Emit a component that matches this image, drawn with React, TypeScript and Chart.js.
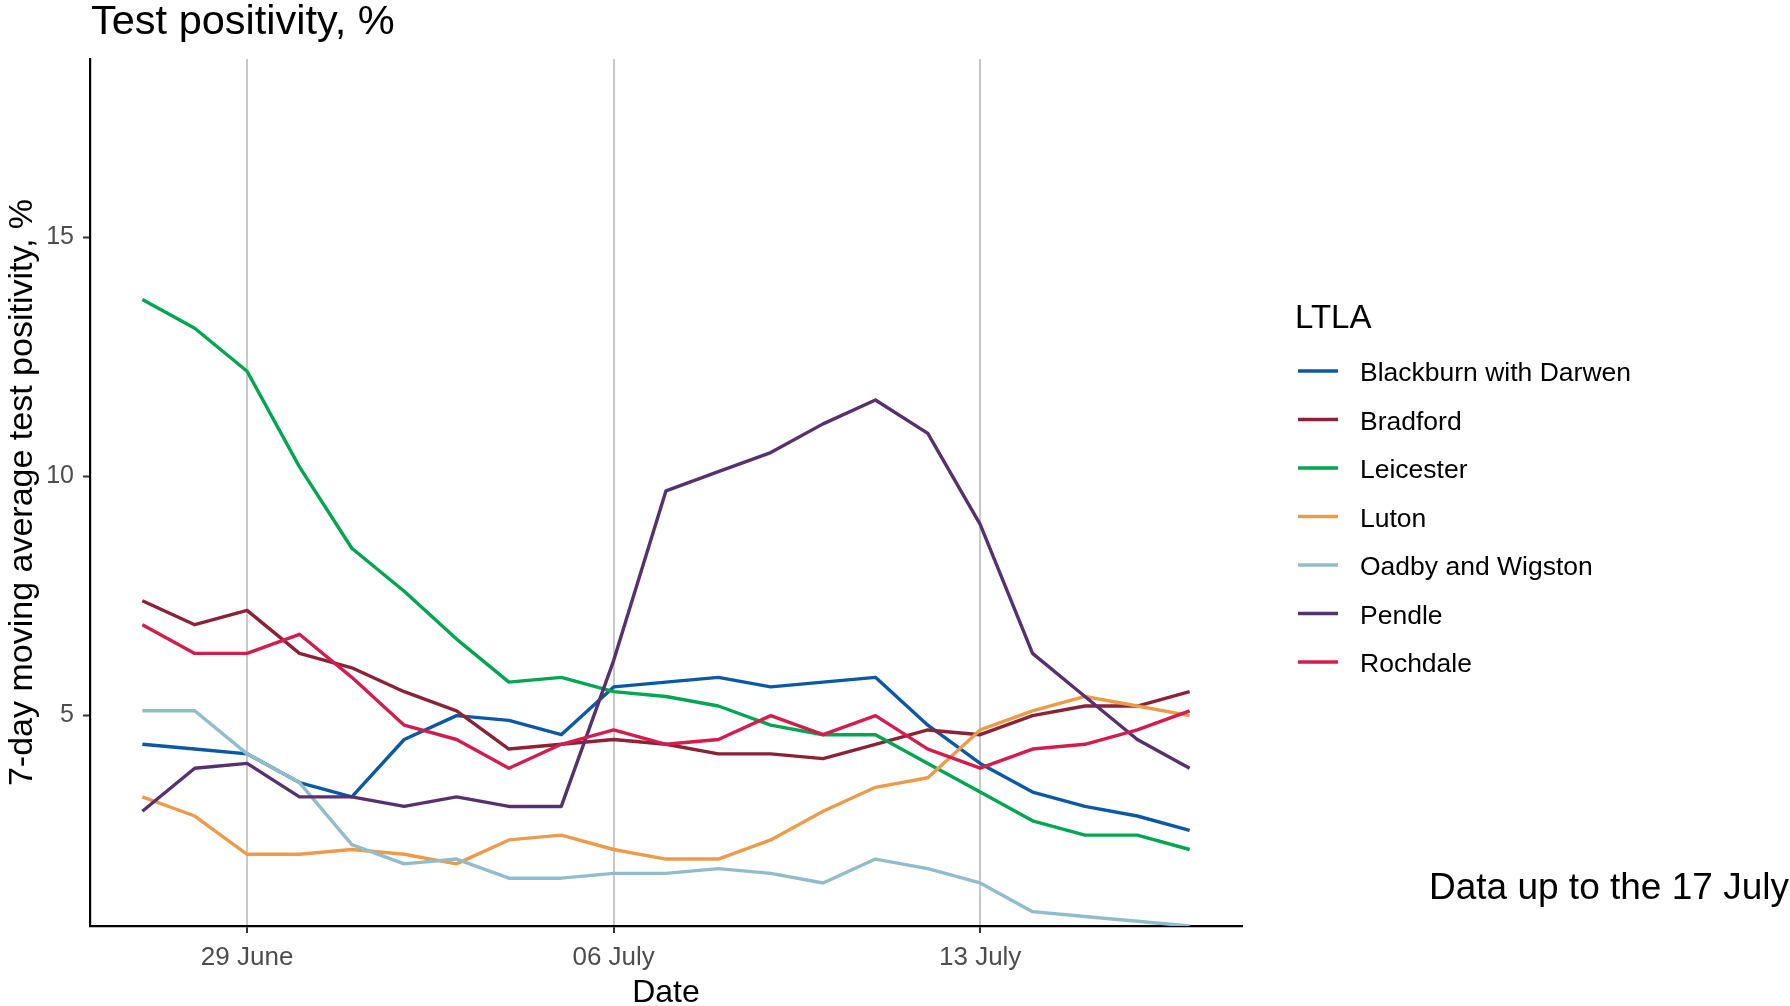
import React, { useEffect, useRef } from "react";
import { Chart, registerables } from "chart.js";

Chart.register(...registerables);

const FONT = "'Liberation Sans', Arial, Helvetica, sans-serif";

const TITLE = "Test positivity, %";
const Y_TITLE = "7-day moving average test positivity, %";
const X_TITLE = "Date";
const LEGEND_TITLE = "LTLA";
const CAPTION = "Data up to the 17 July";

// 27 June .. 17 July
const dates = [
  "27 June", "28 June", "29 June", "30 June", "01 July", "02 July", "03 July",
  "04 July", "05 July", "06 July", "07 July", "08 July", "09 July", "10 July",
  "11 July", "12 July", "13 July", "14 July", "15 July", "16 July", "17 July",
];

const xTickIndex = [2, 9, 16];
const xTickLabels = ["29 June", "06 July", "13 July"];
const yTicks = [5, 10, 15];

const ltlaNames = [
  "Blackburn with Darwen",
  "Bradford",
  "Leicester",
  "Luton",
  "Oadby and Wigston",
  "Pendle",
  "Rochdale",
];

const ltlaColors = [
  "#0B59A6",
  "#8B2236",
  "#00A651",
  "#EC9B4A",
  "#91BCCB",
  "#56306F",
  "#D21D4E",
];

const blackburn = [4.4, 4.3, 4.2, 3.6, 3.3, 4.5, 5.0, 4.9, 4.6, 5.6, 5.7, 5.8, 5.6, 5.7, 5.8, 4.8, 4.0, 3.4, 3.1, 2.9, 2.6];
const bradford = [7.4, 6.9, 7.2, 6.3, 6.0, 5.5, 5.1, 4.3, 4.4, 4.5, 4.4, 4.2, 4.2, 4.1, 4.4, 4.7, 4.6, 5.0, 5.2, 5.2, 5.5];
const leicester = [13.7, 13.1, 12.2, 10.2, 8.5, 7.6, 6.6, 5.7, 5.8, 5.5, 5.4, 5.2, 4.8, 4.6, 4.6, 4.0, 3.4, 2.8, 2.5, 2.5, 2.2];
const luton = [3.3, 2.9, 2.1, 2.1, 2.2, 2.1, 1.9, 2.4, 2.5, 2.2, 2.0, 2.0, 2.4, 3.0, 3.5, 3.7, 4.7, 5.1, 5.4, 5.2, 5.0];
const oadby = [5.1, 5.1, 4.2, 3.6, 2.3, 1.9, 2.0, 1.6, 1.6, 1.7, 1.7, 1.8, 1.7, 1.5, 2.0, 1.8, 1.5, 0.9, 0.8, 0.7, 0.6];
const pendle = [3.0, 3.9, 4.0, 3.3, 3.3, 3.1, 3.3, 3.1, 3.1, 6.15, 9.7, 10.1, 10.5, 11.1, 11.6, 10.9, 9.0, 6.3, 5.4, 4.5, 3.9];
const rochdale = [6.9, 6.3, 6.3, 6.7, 5.8, 4.8, 4.5, 3.9, 4.4, 4.7, 4.4, 4.5, 5.0, 4.6, 5.0, 4.3, 3.9, 4.3, 4.4, 4.7, 5.1];

const seriesValues = [blackburn, bradford, leicester, luton, oadby, pendle, rochdale];

const overlayPlugin = {
  id: "overlay",
  afterDraw(chart: any) {
    const ctx = chart.ctx as CanvasRenderingContext2D;
    const area = chart.chartArea;
    ctx.save();
    ctx.fillStyle = "#000000";
    ctx.textBaseline = "alphabetic";

    // title
    ctx.font = `41.5px ${FONT}`;
    ctx.textAlign = "left";
    ctx.fillText(TITLE, 91, 34);

    // y axis title
    ctx.save();
    ctx.translate(32, (area.top + area.bottom) / 2);
    ctx.rotate(-Math.PI / 2);
    ctx.font = `34px ${FONT}`;
    ctx.textAlign = "center";
    ctx.fillText(Y_TITLE, 0, 0);
    ctx.restore();

    // x axis title
    ctx.font = `32px ${FONT}`;
    ctx.textAlign = "center";
    ctx.fillText(X_TITLE, (area.left + area.right) / 2, 1002);

    // legend
    ctx.textAlign = "left";
    ctx.font = `33px ${FONT}`;
    ctx.fillText(LEGEND_TITLE, 1295, 328);
    ctx.font = `26.5px ${FONT}`;
    ltlaNames.forEach((name, i) => {
      const y = 371 + i * 48.5;
      ctx.strokeStyle = ltlaColors[i];
      ctx.lineWidth = 3.4;
      ctx.lineCap = "butt";
      ctx.beginPath();
      ctx.moveTo(1298, y);
      ctx.lineTo(1338, y);
      ctx.stroke();
      ctx.fillStyle = "#000000";
      ctx.fillText(name, 1360, y + 10);
    });

    // caption
    ctx.font = `37px ${FONT}`;
    ctx.textAlign = "left";
    ctx.fillText(CAPTION, 1429, 899);

    ctx.restore();
  },
};

export default function App() {
  const canvasRef = useRef<HTMLCanvasElement | null>(null);

  useEffect(() => {
    document.body.style.margin = "0";
    const canvas = canvasRef.current;
    if (!canvas) return;

    const datasets = ltlaNames.map((name, i) => ({
      label: name,
      data: seriesValues[i].map((v, j) => ({ x: j, y: v })),
      borderColor: ltlaColors[i],
      backgroundColor: ltlaColors[i],
      borderWidth: 3.4,
      pointRadius: 0,
      pointHoverRadius: 0,
      tension: 0,
      fill: false,
      borderJoinStyle: "round" as const,
      borderCapStyle: "butt" as const,
      order: ltlaNames.length - 1 - i,
    }));

    const chart = new Chart(canvas, {
      type: "line",
      data: { labels: dates, datasets },
      options: {
        animation: false,
        responsive: false,
        devicePixelRatio: 1,
        layout: { padding: { top: 59, right: 548, bottom: 0, left: 0 } },
        plugins: {
          legend: { display: false },
          tooltip: { enabled: false },
          title: { display: false },
        },
        scales: {
          x: {
            type: "linear",
            min: -1,
            max: 21,
            afterBuildTicks: (s: any) => {
              s.ticks = xTickIndex.map((v) => ({ value: v }));
            },
            afterFit: (s: any) => {
              s.height = 80;
            },
            ticks: {
              autoSkip: false,
              maxRotation: 0,
              color: "#4D4D4D",
              font: { family: FONT, size: 26 },
              padding: 9.5,
              callback: (v: any) => {
                const k = xTickIndex.indexOf(Number(v));
                return k >= 0 ? xTickLabels[k] : "";
              },
            },
            grid: {
              display: true,
              drawOnChartArea: true,
              color: "#C8C8C8",
              lineWidth: 2,
              drawTicks: true,
              tickLength: 7,
              tickColor: "#333333",
              tickWidth: 2,
            },
            border: { display: true, color: "#000000", width: 2.2 },
          },
          y: {
            type: "linear",
            min: 0.6,
            max: 18.73,
            afterBuildTicks: (s: any) => {
              s.ticks = yTicks.map((v) => ({ value: v }));
            },
            afterFit: (s: any) => {
              s.width = 90;
            },
            ticks: {
              color: "#4D4D4D",
              font: { family: FONT, size: 25 },
              padding: 9,
              callback: (v: any) => String(v),
            },
            grid: {
              display: true,
              drawOnChartArea: false,
              drawTicks: true,
              tickLength: 7,
              tickColor: "#333333",
              tickWidth: 2,
            },
            border: { display: true, color: "#000000", width: 2.2 },
          },
        },
      },
      plugins: [overlayPlugin],
    });

    return () => {
      chart.destroy();
    };
  }, []);

  return (
    <div style={{ position: "fixed", left: 0, top: 0, width: 1790, height: 1006, background: "#ffffff" }}>
      <canvas ref={canvasRef} width={1790} height={1006} style={{ width: 1790, height: 1006, display: "block" }} />
    </div>
  );
}
